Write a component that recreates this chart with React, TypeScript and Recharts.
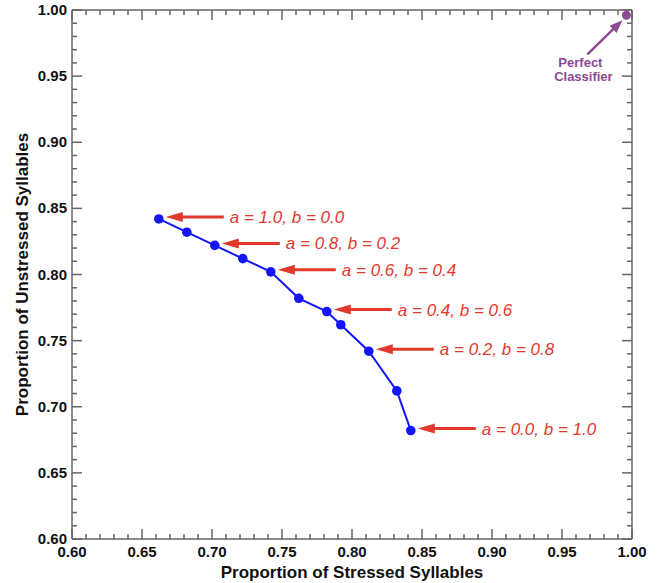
import { ScatterChart, Scatter, XAxis, YAxis } from 'recharts'

// trade-off curve
const xValues = [0.662, 0.682, 0.702, 0.722, 0.742, 0.762, 0.782, 0.792, 0.812, 0.832, 0.842]
const yValues = [0.842, 0.832, 0.822, 0.812, 0.802, 0.782, 0.772, 0.762, 0.742, 0.712, 0.682]
const annotations = [
  'a = 1.0, b = 0.0', '', 'a = 0.8, b = 0.2', '', 'a = 0.6, b = 0.4', '',
  'a = 0.4, b = 0.6', '', 'a = 0.2, b = 0.8', '', 'a = 0.0, b = 1.0',
]

const perfectX = [0.996]
const perfectY = [0.996]
const perfectLabel = ['Perfect', 'Classifier']

const axisTicks = [
  0.60, 0.61, 0.62, 0.63, 0.64, 0.65, 0.66, 0.67, 0.68, 0.69,
  0.70, 0.71, 0.72, 0.73, 0.74, 0.75, 0.76, 0.77, 0.78, 0.79,
  0.80, 0.81, 0.82, 0.83, 0.84, 0.85, 0.86, 0.87, 0.88, 0.89,
  0.90, 0.91, 0.92, 0.93, 0.94, 0.95, 0.96, 0.97, 0.98, 0.99, 1.00,
]
const majorTicks = ['0.60', '0.65', '0.70', '0.75', '0.80', '0.85', '0.90', '0.95', '1.00']

const xTitle = 'Proportion of Stressed Syllables'
const yTitle = 'Proportion of Unstressed Syllables'

const curve = xValues.map((x, i) => ({ x, y: yValues[i], note: annotations[i] }))
const perfect = perfectX.map((x, i) => ({ x, y: perfectY[i] }))

const FONT = '"Liberation Sans", Arial, Helvetica, sans-serif'
const AXIS = '#666666'
const BLUE = '#1414ff'
const RED = '#e2392d'
const PURPLE = '#8c4a91'

const isMajor = (v: number) => majorTicks.includes(v.toFixed(2))

function tickFor(side: 'bottom' | 'left' | 'top' | 'right') {
  return (props: any) => {
    const { x, y, payload } = props
    const v = payload.value as number
    const len = isMajor(v) ? 10 : 5
    let line
    if (side === 'bottom') line = <line x1={x} y1={y} x2={x} y2={y - len} />
    else if (side === 'top') line = <line x1={x} y1={y} x2={x} y2={y + len} />
    else if (side === 'left') line = <line x1={x} y1={y} x2={x + len} y2={y} />
    else line = <line x1={x} y1={y} x2={x - len} y2={y} />
    return (
      <g>
        <g stroke={AXIS} strokeWidth={1.5}>{line}</g>
        {side === 'bottom' && isMajor(v) && (
          <text x={x} y={y + 18} textAnchor="middle" fontFamily={FONT} fontWeight="bold" fontSize={15} fill="#111">
            {v.toFixed(2)}
          </text>
        )}
        {side === 'left' && isMajor(v) && (
          <text x={x - 5} y={y + 5} textAnchor="end" fontFamily={FONT} fontWeight="bold" fontSize={15} fill="#111">
            {v.toFixed(2)}
          </text>
        )}
      </g>
    )
  }
}

function CurvePoint(props: any) {
  const { cx, cy, payload } = props
  const note = payload?.note
  const ay = cy - 2
  const tip = cx + 7
  return (
    <g>
      <circle cx={cx} cy={cy} r={4.8} fill={BLUE} />
      {note && (
        <g>
          <line x1={tip + 12} y1={ay} x2={tip + 58} y2={ay} stroke={RED} strokeWidth={3} />
          <polygon points={`${tip},${ay} ${tip + 17},${ay - 5} ${tip + 17},${ay + 5}`} fill={RED} />
          <text x={tip + 64} y={ay + 6} fontFamily={FONT} fontStyle="italic" fontSize={17} fill={RED}>
            {note}
          </text>
        </g>
      )}
    </g>
  )
}

function PerfectPoint(props: any) {
  const { cx, cy } = props
  const tx = cx - 4
  const ty = cy + 5
  const sx = cx - 39
  const sy = cy + 39
  const dx = tx - sx
  const dy = ty - sy
  const d = Math.sqrt(dx * dx + dy * dy)
  const ux = dx / d
  const uy = dy / d
  const hl = 13
  const hw = 5
  const bx = tx - ux * hl
  const by = ty - uy * hl
  return (
    <g>
      <circle cx={cx} cy={cy} r={4.5} fill={PURPLE} />
      <line x1={sx} y1={sy} x2={bx + ux * 2} y2={by + uy * 2} stroke={PURPLE} strokeWidth={2.5} />
      <polygon
        points={`${tx},${ty} ${bx - uy * hw},${by + ux * hw} ${bx + uy * hw},${by - ux * hw}`}
        fill={PURPLE}
      />
      <text x={cx - 46} y={cy + 52} textAnchor="middle" fontFamily={FONT} fontWeight="bold" fontSize={13} fill={PURPLE}>
        {perfectLabel[0]}
      </text>
      <text x={cx - 43} y={cy + 66} textAnchor="middle" fontFamily={FONT} fontWeight="bold" fontSize={13} fill={PURPLE}>
        {perfectLabel[1]}
      </text>
    </g>
  )
}

export default function App() {
  return (
    <div style={{ position: 'absolute', left: 0, top: 0, background: '#fff' }}>
      <ScatterChart width={665} height={583} margin={{ top: 9, right: 32, bottom: 0, left: 0 }}>
        <XAxis
          dataKey="x"
          type="number"
          domain={[0.6, 1.0]}
          ticks={axisTicks}
          interval={0}
          height={44}
          tickSize={0}
          tickMargin={0}
          tickLine={false}
          axisLine={{ stroke: AXIS, strokeWidth: 1.5 }}
          tick={tickFor('bottom')}
          allowDataOverflow
          label={(p: any) => {
            const vb = p.viewBox
            return (
              <text x={vb.x + vb.width / 2} y={vb.y + 39} textAnchor="middle" fontFamily={FONT} fontWeight="bold" fontSize={17} fill="#111">
                {xTitle}
              </text>
            )
          }}
        />
        <YAxis
          dataKey="y"
          type="number"
          domain={[0.6, 1.0]}
          ticks={axisTicks}
          interval={0}
          width={72}
          tickSize={0}
          tickMargin={0}
          tickLine={false}
          axisLine={{ stroke: AXIS, strokeWidth: 1.5 }}
          tick={tickFor('left')}
          allowDataOverflow
          label={(p: any) => {
            const vb = p.viewBox
            const lx = 22
            const ly = vb.y + vb.height / 2
            return (
              <text x={lx} y={ly} transform={`rotate(-90, ${lx}, ${ly})`} textAnchor="middle" dominantBaseline="central" fontFamily={FONT} fontWeight="bold" fontSize={17} fill="#111">
                {yTitle}
              </text>
            )
          }}
        />
        <XAxis
          xAxisId="top"
          orientation="top"
          dataKey="x"
          type="number"
          domain={[0.6, 1.0]}
          ticks={axisTicks}
          interval={0}
          height={1}
          tickSize={0}
          tickMargin={0}
          tickLine={false}
          axisLine={{ stroke: AXIS, strokeWidth: 1.5 }}
          tick={tickFor('top')}
          allowDataOverflow
        />
        <YAxis
          yAxisId="right"
          orientation="right"
          dataKey="y"
          type="number"
          domain={[0.6, 1.0]}
          ticks={axisTicks}
          interval={0}
          width={1}
          tickSize={0}
          tickMargin={0}
          tickLine={false}
          axisLine={{ stroke: AXIS, strokeWidth: 1.5 }}
          tick={tickFor('right')}
          allowDataOverflow
        />
        <Scatter
          data={curve}
          line={{ stroke: BLUE, strokeWidth: 2 }}
          shape={CurvePoint}
          isAnimationActive={false}
        />
        <Scatter data={perfect} shape={PerfectPoint} isAnimationActive={false} />
        <Scatter data={perfect} xAxisId="top" yAxisId="right" shape={() => <g />} isAnimationActive={false} />
      </ScatterChart>
    </div>
  )
}
